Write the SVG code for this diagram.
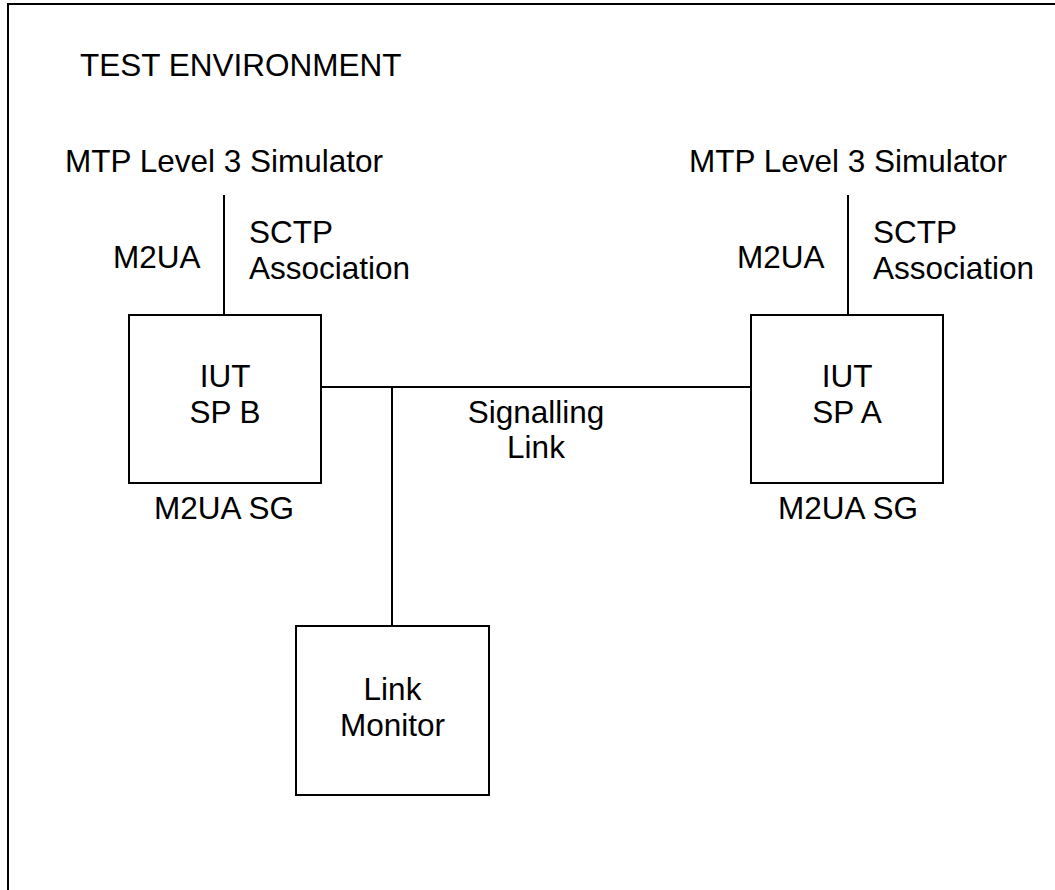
<svg xmlns="http://www.w3.org/2000/svg" width="1055" height="890" viewBox="0 0 1055 890">
<style>
  .box { fill: #fff; stroke: #000; stroke-width: 2; }
  .ln { stroke: #000; stroke-width: 2; fill: none; }
  text { font-family: "Liberation Sans", Arial, sans-serif; font-size: 31.5px; fill: #000; }
  .c { text-anchor: middle; }
</style>
<rect width="1055" height="890" fill="#fff"/>
<g id="frame">
  <rect x="8" y="4" width="1100" height="1000" fill="none" stroke="#000" stroke-width="2"/>
  <text x="80" y="76">TEST ENVIRONMENT</text>
</g>
<g id="connectors">
  <line class="ln" x1="224" y1="195" x2="224" y2="315"/>
  <line class="ln" x1="848" y1="195" x2="848" y2="315"/>
  <line class="ln" x1="321" y1="387" x2="751" y2="387"/>
  <line class="ln" x1="392" y1="387" x2="392" y2="626"/>
</g>
<g id="sim-left">
  <text class="c" x="224" y="172">MTP Level 3 Simulator</text>
</g>
<g id="sim-right">
  <text class="c" x="848" y="172">MTP Level 3 Simulator</text>
</g>
<g id="labels-left">
  <text x="113" y="268">M2UA</text>
  <text x="249" y="243">SCTP</text>
  <text x="249" y="279">Association</text>
</g>
<g id="labels-right">
  <text x="737" y="268">M2UA</text>
  <text x="873" y="243">SCTP</text>
  <text x="873" y="279">Association</text>
</g>
<g id="sp-b">
  <rect class="box" x="129" y="315" width="192" height="168"/>
  <text class="c" x="225" y="387">IUT</text>
  <text class="c" x="225" y="423">SP B</text>
  <text class="c" x="224" y="519">M2UA SG</text>
</g>
<g id="sp-a">
  <rect class="box" x="751" y="315" width="192" height="168"/>
  <text class="c" x="847" y="387">IUT</text>
  <text class="c" x="847" y="423">SP A</text>
  <text class="c" x="848" y="519">M2UA SG</text>
</g>
<g id="signalling-link">
  <text class="c" x="536" y="423">Signalling</text>
  <text class="c" x="536" y="458">Link</text>
</g>
<g id="link-monitor">
  <rect class="box" x="296" y="626" width="193" height="169"/>
  <text class="c" x="392.5" y="700">Link</text>
  <text class="c" x="392.5" y="736">Monitor</text>
</g>
</svg>
